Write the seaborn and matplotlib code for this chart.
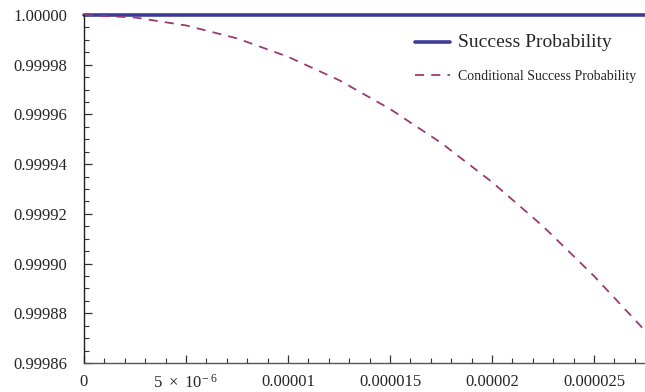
import matplotlib
matplotlib.use("Agg")
import matplotlib.pyplot as plt
import seaborn as sns
import pandas as pd
import numpy as np
from matplotlib.ticker import MultipleLocator, FixedLocator, FixedFormatter

# Data
x_vals = [0, 2.5e-6, 5e-6, 7.5e-6, 1e-5, 1.25e-5, 1.5e-5, 1.75e-5, 2e-5, 2.25e-5, 2.5e-5, 2.75e-5]
success = [1.0] * 12
conditional = [1.0, 0.999999, 0.9999958, 0.9999906, 0.9999832, 0.9999738, 0.9999622,
               0.9999486, 0.9999328, 0.999915, 0.999895, 0.999873]
x_ticks = [0, 5e-6, 1e-5, 1.5e-5, 2e-5, 2.5e-5]
x_labels = ["0", r"$5\ \times\ 10^{-\ 6}$", "0.00001", "0.000015", "0.00002", "0.000025"]
y_ticks = [0.99986, 0.99988, 0.99990, 0.99992, 0.99994, 0.99996, 0.99998, 1.00000]
y_labels = ["0.99986", "0.99988", "0.99990", "0.99992", "0.99994", "0.99996", "0.99998", "1.00000"]

sns.set_style("ticks")
plt.rcParams["font.family"] = ["Liberation Serif", "DejaVu Serif"]
plt.rcParams["mathtext.fontset"] = "custom"
plt.rcParams["mathtext.rm"] = "Liberation Serif"
plt.rcParams["mathtext.it"] = "Liberation Serif"
plt.rcParams["mathtext.default"] = "rm"

df = pd.DataFrame({"x": x_vals, "Success Probability": success,
                   "Conditional Success Probability": conditional})

fig = plt.figure(figsize=(6.45, 3.92), dpi=100)
ax = fig.add_axes([84/645, 29/392, 1 - 84/645, 348/392])

sns.lineplot(data=df, x="x", y="Success Probability", ax=ax, color="#3c3c98",
             linewidth=2.6, label="Success Probability")
sns.lineplot(data=df, x="x", y="Conditional Success Probability", ax=ax, color="#9b3a72",
             linewidth=1.3, linestyle=(0, (5, 4)), label="Conditional Success Probability")
for ln in ax.get_lines():
    ln.set_clip_on(False)

ax.set_xlim(0, 2.75e-5)
ax.set_ylim(0.99986, 1.0)
ax.set_xlabel("")
ax.set_ylabel("")

ax.xaxis.set_major_locator(FixedLocator(x_ticks))
ax.xaxis.set_major_formatter(FixedFormatter(x_labels))
ax.xaxis.set_minor_locator(MultipleLocator(1e-6))
ax.yaxis.set_major_locator(FixedLocator(y_ticks))
ax.yaxis.set_major_formatter(FixedFormatter(y_labels))
ax.yaxis.set_minor_locator(FixedLocator(list(np.arange(0.99986, 1.0000001, 0.000005))))

ax.tick_params(axis="both", which="major", direction="in", length=6, width=0.9,
               labelsize=12, color="#333333")
ax.tick_params(axis="both", which="minor", direction="in", length=3.5, width=0.8, color="#333333")
ax.tick_params(axis="x", which="major", pad=8)
ax.tick_params(axis="y", which="major", pad=12)

for s in ["top", "right"]:
    ax.spines[s].set_visible(False)
ax.spines["left"].set_color("#222222")
ax.spines["bottom"].set_color("#555555")
ax.spines["left"].set_linewidth(1.0)
ax.spines["bottom"].set_linewidth(1.0)

leg = ax.legend(loc="upper right", bbox_to_anchor=(1.0, 0.97), frameon=False,
                handlelength=2.5, handletextpad=0.6, labelspacing=1.4, borderaxespad=0.2)
texts = leg.get_texts()
texts[0].set_fontsize(14)
texts[1].set_fontsize(10)

fig.savefig("out.png", dpi=100)
